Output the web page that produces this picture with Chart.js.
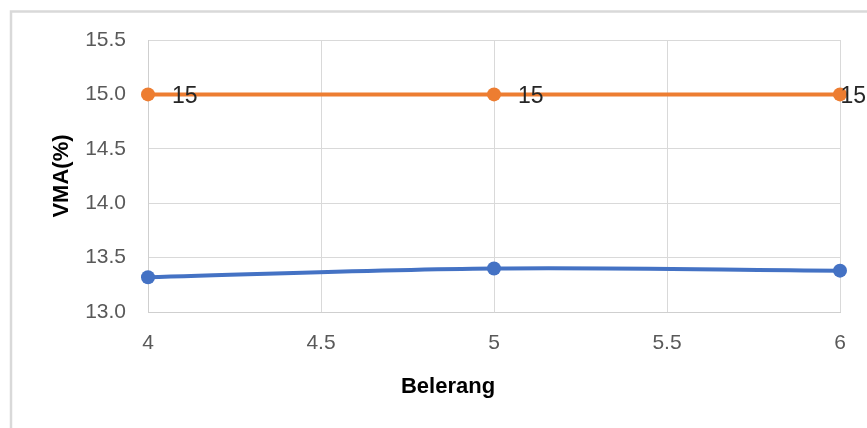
<!DOCTYPE html>
<html>
<head>
<meta charset="utf-8">
<script src="https://cdn.jsdelivr.net/npm/chart.js@4/dist/chart.umd.min.js"></script>
<style>
  html, body { margin: 0; padding: 0; background: #ffffff; }
  #wrap { width: 867px; height: 428px; position: relative; }
</style>
</head>
<body>
<div id="wrap"><canvas id="c" width="867" height="428"></canvas></div>
<script>
// Sulphur (belerang) content on the x axis
const belerang = [4, 5, 6];
// Measured VMA values
const vmaValues = [13.32, 13.40, 13.38];
// Minimum VMA specification
const vmaSpec = [15, 15, 15];
// Axis ranges and steps
const xRange = [4, 6];
const xStep = 0.5;
const yRange = [13.0, 15.5];
const yStep = 0.5;
// Axis titles
const xTitle = 'Belerang';
const yTitle = 'VMA(%)';

const FONT = "'Liberation Sans', Arial, sans-serif";
const GRID = '#d9d9d9';

// Light frame around the whole chart
const framePlugin = {
  id: 'frame',
  beforeDraw(chart) {
    const ctx = chart.ctx;
    ctx.save();
    ctx.fillStyle = '#ffffff';
    ctx.fillRect(0, 0, chart.width, chart.height);
    ctx.strokeStyle = '#d9d9d9';
    ctx.lineWidth = 2.5;
    ctx.strokeRect(11, 11.5, chart.width + 50, chart.height + 50);
    ctx.restore();
  }
};

// Value labels to the right of each point (kept inside the canvas)
const valueLabelPlugin = {
  id: 'valueLabels',
  afterDatasetsDraw(chart) {
    const ctx = chart.ctx;
    ctx.save();
    ctx.font = '23px ' + FONT;
    ctx.fillStyle = '#262626';
    ctx.textAlign = 'left';
    ctx.textBaseline = 'middle';
    chart.data.datasets.forEach((ds, i) => {
      if (!ds.showValues) return;
      const meta = chart.getDatasetMeta(i);
      meta.data.forEach((pt, j) => {
        const v = ds.data[j];
        const txt = String(typeof v === 'object' ? v.y : v);
        const w = ctx.measureText(txt).width;
        const x = Math.min(pt.x + 24, chart.width - w - 1);
        ctx.fillText(txt, x, pt.y + 2);
      });
    });
    ctx.restore();
  }
};

// Horizontal axis title
const xTitlePlugin = {
  id: 'xTitle',
  afterDraw(chart) {
    const ctx = chart.ctx;
    ctx.save();
    ctx.font = 'bold 22px ' + FONT;
    ctx.fillStyle = '#000000';
    ctx.textAlign = 'center';
    ctx.textBaseline = 'alphabetic';
    ctx.fillText(xTitle, chart.chartArea.left + 300, 393);
    ctx.restore();
  }
};

const toPoints = (xs, ys) => xs.map((x, i) => ({ x: x, y: ys[i] }));

new Chart(document.getElementById('c'), {
  type: 'line',
  data: {
    datasets: [
      {
        label: 'VMA',
        data: toPoints(belerang, vmaValues),
        borderColor: '#4472C4',
        backgroundColor: '#4472C4',
        borderWidth: 4,
        pointRadius: 7,
        pointHoverRadius: 7,
        pointBorderWidth: 0,
        tension: 0.35,
        clip: false
      },
      {
        label: 'Spesifikasi',
        data: toPoints(belerang, vmaSpec),
        borderColor: '#ED7D31',
        backgroundColor: '#ED7D31',
        borderWidth: 4,
        pointRadius: 7,
        pointHoverRadius: 7,
        pointBorderWidth: 0,
        tension: 0,
        clip: false,
        showValues: true
      }
    ]
  },
  options: {
    responsive: false,
    animation: false,
    events: [],
    layout: { padding: { top: 40, right: 27, left: 0, bottom: 0 } },
    plugins: {
      legend: { display: false },
      tooltip: { enabled: false }
    },
    scales: {
      x: {
        type: 'linear',
        min: xRange[0],
        max: xRange[1],
        grid: { color: GRID, drawTicks: false },
        border: { color: '#cfcfcf', width: 1 },
        ticks: {
          stepSize: xStep,
          padding: 19,
          color: '#595959',
          font: { family: FONT, size: 21 },
          callback: v => String(v)
        },
        afterFit(scale) { scale.height = 116; }
      },
      y: {
        type: 'linear',
        min: yRange[0],
        max: yRange[1],
        grid: { color: GRID, drawTicks: false },
        border: { color: '#cfcfcf', width: 1 },
        ticks: {
          stepSize: yStep,
          padding: 22,
          color: '#595959',
          font: { family: FONT, size: 21 },
          callback: v => Number(v).toFixed(1)
        },
        title: {
          display: true,
          text: yTitle,
          color: '#000000',
          font: { family: FONT, size: 22, weight: 'bold' },
          padding: { top: 49, bottom: 0 }
        },
        afterFit(scale) { scale.width = 148; }
      }
    }
  },
  plugins: [framePlugin, valueLabelPlugin, xTitlePlugin]
});
</script>
</body>
</html>
